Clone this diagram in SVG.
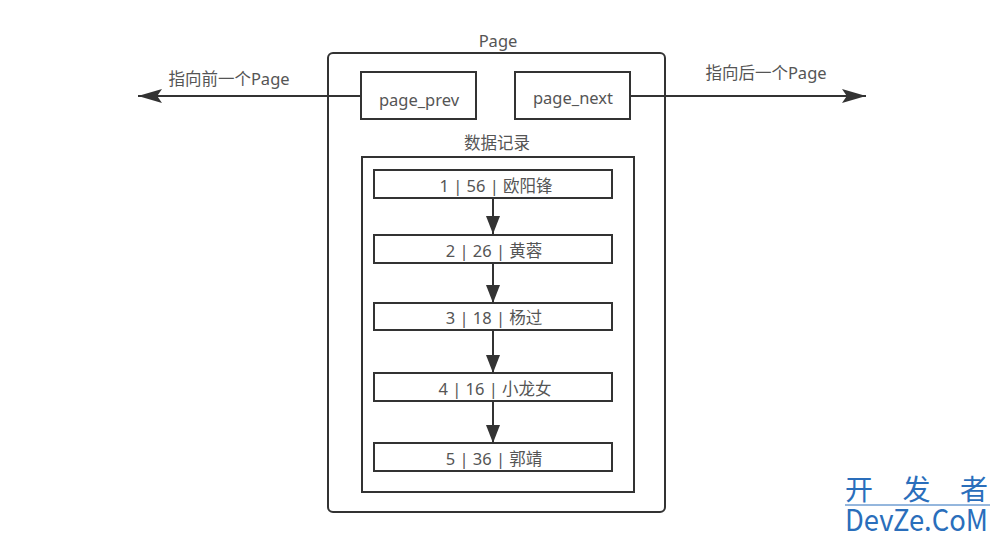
<svg xmlns="http://www.w3.org/2000/svg" width="1000" height="540" viewBox="0 0 1000 540">
<style>
.box{fill:#fff;stroke:#333;stroke-width:2}
.t{font-family:"Noto Sans","Noto Sans CJK SC",sans-serif;font-size:16.5px;fill:#555;text-anchor:middle;dominant-baseline:central}
.ln{stroke:#333;stroke-width:2;fill:none}
.wm{font-family:"Noto Sans CJK SC","Noto Sans",sans-serif;fill:#2a6ebb}
</style>
<defs>
<marker id="ah" viewBox="0 0 10 10" refX="10" refY="5" markerWidth="18" markerHeight="14" markerUnits="userSpaceOnUse" orient="auto" preserveAspectRatio="none">
<path d="M0,0 L10,5 L0,10 z" fill="#333"/>
</marker>
<marker id="ahb" viewBox="0 0 10 10" refX="10" refY="5" markerWidth="24" markerHeight="14" markerUnits="userSpaceOnUse" orient="auto" preserveAspectRatio="none">
<path d="M0,0 L10,5 L0,10 L2,5 z" fill="#333"/>
</marker>
</defs>
<rect width="1000" height="540" fill="#fff"/>
<g id="page">
<rect class="box" x="328" y="53" width="337" height="459" rx="5"/>
<text class="t" x="498" y="40">Page</text>
</g>
<g id="connectors">
<line class="ln" x1="361" y1="96" x2="138" y2="96" marker-end="url(#ahb)"/>
<line class="ln" x1="630" y1="96" x2="866" y2="96" marker-end="url(#ahb)"/>
<line class="ln" x1="493" y1="198" x2="493" y2="234" marker-end="url(#ah)"/>
<line class="ln" x1="493" y1="263" x2="493" y2="303" marker-end="url(#ah)"/>
<line class="ln" x1="493" y1="330" x2="493" y2="373" marker-end="url(#ah)"/>
<line class="ln" x1="493" y1="402" x2="493" y2="443" marker-end="url(#ah)"/>
</g>
<g id="label-prev"><text class="t" x="229" y="78">指向前一个Page</text></g>
<g id="label-next"><text class="t" x="766" y="72">指向后一个Page</text></g>
<g id="page_prev">
<rect class="box" x="361" y="72" width="115" height="47"/>
<text class="t" x="419" y="99">page_prev</text>
</g>
<g id="page_next">
<rect class="box" x="515" y="72" width="115" height="47"/>
<text class="t" x="573" y="97">page_next</text>
</g>
<g id="records">
<text class="t" x="497" y="142">数据记录</text>
<rect class="box" x="362" y="157" width="272" height="335" style="fill:none"/>
</g>
<g id="rec1"><rect class="box" x="374" y="170" width="238" height="28"/><text class="t" x="496" y="185">1 | 56 | 欧阳锋</text></g>
<g id="rec2"><rect class="box" x="374" y="235" width="238" height="28"/><text class="t" x="494" y="250">2 | 26 | 黄蓉</text></g>
<g id="rec3"><rect class="box" x="374" y="303" width="238" height="27"/><text class="t" x="494" y="317">3 | 18 | 杨过</text></g>
<g id="rec4"><rect class="box" x="374" y="373" width="238" height="28"/><text class="t" x="495" y="388">4 | 16 | 小龙女</text></g>
<g id="rec5"><rect class="box" x="374" y="443" width="238" height="28"/><text class="t" x="494" y="458">5 | 36 | 郭靖</text></g>
<g id="watermark">
<text class="wm" x="845" y="500" style="font-size:28px" textLength="143" lengthAdjust="spacing">开发者</text>
<line x1="845" y1="505" x2="990" y2="505" stroke="#2a6ebb" stroke-width="1"/>
<text class="wm" x="845" y="531" style="font-size:30px" textLength="143" lengthAdjust="spacingAndGlyphs">DevZe.CoM</text>
</g>
</svg>
